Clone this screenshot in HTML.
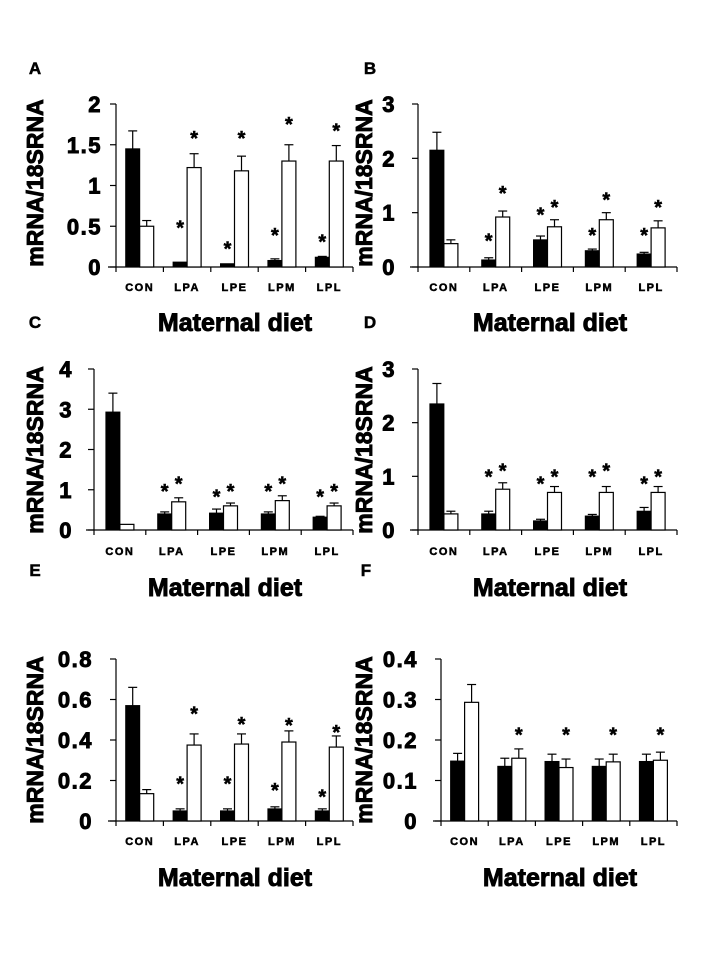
<!DOCTYPE html>
<html><head><meta charset="utf-8"><style>
html,body{margin:0;padding:0;background:#fff;}
svg{display:block;font-family:"Liberation Sans",Arial,sans-serif;}
.heavy{stroke:#000;stroke-width:0.9px;paint-order:stroke;}
.heavy2{stroke:#000;stroke-width:0.5px;}
</style></head><body>
<svg id="fig" width="717" height="955" viewBox="0 0 717 955" xmlns="http://www.w3.org/2000/svg"></svg>
<script>
const categories = ["CON","LPA","LPE","LPM","LPL"];
const yTicksA = ["0","0.5","1","1.5","2"];
const yTicksB = ["0","1","2","3"];
const yTicksC = ["0","1","2","3","4"];
const yTicksD = ["0","1","2","3"];
const yTicksE = ["0","0.2","0.4","0.6","0.8"];
const yTicksF = ["0","0.1","0.2","0.3","0.4"];

const aBlack = [1.45,0.06,0.04,0.08,0.12];
const aBlackErr = [1.67,0.06,0.04,0.10,0.13];
const aWhite = [0.50,1.22,1.18,1.30,1.30];
const aWhiteErr = [0.57,1.39,1.36,1.50,1.49];
const aStarBlack = [null,0.51,0.25,0.42,0.34];
const aStarWhite = [null,1.61,1.61,1.78,1.70];

const bBlack = [2.15,0.13,0.50,0.30,0.24];
const bBlackErr = [2.48,0.17,0.57,0.33,0.27];
const bWhite = [0.43,0.92,0.74,0.87,0.72];
const bWhiteErr = [0.50,1.03,0.87,1.00,0.85];
const bStarBlack = [null,0.52,1.00,0.63,0.63];
const bStarWhite = [null,1.40,1.14,1.28,1.14];

const cBlack = [2.93,0.40,0.42,0.40,0.32];
const cBlackErr = [3.40,0.45,0.52,0.45,0.34];
const cWhite = [0.14,0.70,0.60,0.73,0.60];
const cWhiteErr = [0.14,0.80,0.67,0.85,0.67];
const cStarBlack = [null,1.02,0.88,1.02,0.88];
const cStarWhite = [null,1.20,1.02,1.20,1.02];

const dBlack = [2.35,0.30,0.17,0.26,0.35];
const dBlackErr = [2.73,0.35,0.20,0.29,0.42];
const dWhite = [0.30,0.76,0.70,0.70,0.70];
const dWhiteErr = [0.35,0.88,0.81,0.81,0.81];
const dStarBlack = [null,1.03,0.90,1.03,0.90];
const dStarWhite = [null,1.15,1.03,1.15,1.03];

const eBlack = [0.57,0.05,0.05,0.06,0.05];
const eBlackErr = [0.66,0.06,0.06,0.07,0.06];
const eWhite = [0.135,0.375,0.38,0.39,0.365];
const eWhiteErr = [0.155,0.43,0.43,0.445,0.42];
const eStarBlack = [null,0.196,0.196,0.163,0.13];
const eStarWhite = [null,0.54,0.49,0.485,0.45];

const fBlack = [0.148,0.135,0.147,0.135,0.147];
const fBlackErr = [0.167,0.155,0.165,0.153,0.165];
const fWhite = [0.293,0.155,0.132,0.146,0.15];
const fWhiteErr = [0.337,0.178,0.153,0.165,0.17];
const fStarBlack = [null,null,null,null,null];
const fStarWhite = [null,0.219,0.219,0.219,0.219];

const panels = [
 {id:"a",letter:"A",lx:35,ly:68,x0:116,x1:353,yTop:104,yZero:267,max:2,ticks:yTicksA,tlx:102,catY:291,titleX:235,titleY:331,ytx:35,yty:183,
  black:aBlack,blackErr:aBlackErr,white:aWhite,whiteErr:aWhiteErr,sb:aStarBlack,sw:aStarWhite},
 {id:"b",letter:"B",lx:370,ly:68,x0:418,x1:677,yTop:104,yZero:267,max:3,ticks:yTicksB,tlx:396,catY:291,titleX:550,titleY:331,ytx:364,yty:183,
  black:bBlack,blackErr:bBlackErr,white:bWhite,whiteErr:bWhiteErr,sb:bStarBlack,sw:bStarWhite},
 {id:"c",letter:"C",lx:35,ly:322,x0:94,x1:353,yTop:369,yZero:530,max:4,ticks:yTicksC,tlx:73,catY:555,titleX:225,titleY:596,ytx:35,yty:450,
  black:cBlack,blackErr:cBlackErr,white:cWhite,whiteErr:cWhiteErr,sb:cStarBlack,sw:cStarWhite},
 {id:"d",letter:"D",lx:370,ly:322,x0:418,x1:677,yTop:369,yZero:530,max:3,ticks:yTicksD,tlx:396,catY:555,titleX:550,titleY:596,ytx:364,yty:450,
  black:dBlack,blackErr:dBlackErr,white:dWhite,whiteErr:dWhiteErr,sb:dStarBlack,sw:dStarWhite},
 {id:"e",letter:"E",lx:35,ly:570,x0:116,x1:353,yTop:659,yZero:821,max:0.8,ticks:yTicksE,tlx:93,catY:845,titleX:235,titleY:886,ytx:35,yty:740,
  black:eBlack,blackErr:eBlackErr,white:eWhite,whiteErr:eWhiteErr,sb:eStarBlack,sw:eStarWhite},
 {id:"f",letter:"F",lx:366,ly:570,x0:441,x1:677,yTop:659,yZero:821,max:0.4,ticks:yTicksF,tlx:418,catY:845,titleX:560,titleY:886,ytx:364,yty:740,
  black:fBlack,blackErr:fBlackErr,white:fWhite,whiteErr:fWhiteErr,sb:fStarBlack,sw:fStarWhite}
];

const NS = "http://www.w3.org/2000/svg";
const svg = document.getElementById("fig");
function mk(tag, attrs, parent){
  const e = document.createElementNS(NS, tag);
  for (const k in attrs) e.setAttribute(k, attrs[k]);
  parent.appendChild(e);
  return e;
}

panels.forEach(p => {
  const g = mk("g", {}, svg);
  
  
  const yS = v => p.yZero - (v / p.max) * (p.yZero - p.yTop);
  const gw = (p.x1 - p.x0) / categories.length;
  const xC = i => p.x0 + gw * (i + 0.5);
  const bw = 14;

  const letter = mk("text", {x:p.lx, y:p.ly+6, "font-size":17, "font-weight":"bold", "text-anchor":"middle", class:"heavy2"}, g);
  letter.textContent = p.letter;
  
  

  const yt = mk("text", {x:0, y:0, "font-size":23, "font-weight":"bold", "text-anchor":"middle", class:"heavy",
    transform:`translate(${p.ytx + 8},${p.yty}) rotate(-90)`}, g);
  yt.textContent = "mRNA/18SRNA";
  
  

  const ya = mk("line", {x1:p.x0, y1:p.yTop, x2:p.x0, y2:p.yZero, stroke:"#000", "stroke-width":1.2}, g);
  
  
  const xa = mk("line", {x1:p.x0-8, y1:p.yZero, x2:p.x1, y2:p.yZero, stroke:"#000", "stroke-width":1.2}, g);
  
  

  p.ticks.forEach((t, i) => {
    const v = parseFloat(t);
    const y = yS(v);
    mk("line", {x1:p.x0-6, y1:y, x2:p.x0, y2:y, stroke:"#000", "stroke-width":1.2}, g);
    const tl = mk("text", {x:p.tlx, y:y+8, "font-size":22, "font-weight":"bold", "text-anchor":"end", "letter-spacing":"1.5", class:"heavy"}, g);
    tl.textContent = t;
    
    
  });
  for (let i = 0; i <= categories.length; i++) {
    const x = p.x0 + gw * i;
    mk("line", {x1:x, y1:p.yZero, x2:x, y2:p.yZero+5, stroke:"#000", "stroke-width":1.2}, g);
  }

  categories.forEach((c, i) => {
    const cx = xC(i);
    const by = yS(p.black[i]);
    const bb = mk("rect", {x:cx-bw, y:by, width:bw, height:p.yZero-by, fill:"#000", stroke:"#000", "stroke-width":1}, g);
    
    
    const bex = cx - bw/2, bey = yS(p.blackErr[i]);
    if (p.blackErr[i] > p.black[i]) {
      mk("line", {x1:bex, y1:by, x2:bex, y2:bey, stroke:"#000", "stroke-width":1.2}, g);
      mk("line", {x1:bex-4.5, y1:bey, x2:bex+4.5, y2:bey, stroke:"#000", "stroke-width":1.2}, g);
    }
    const wy = yS(p.white[i]);
    const wb = mk("rect", {x:cx, y:wy, width:bw, height:p.yZero-wy, fill:"#fff", stroke:"#000", "stroke-width":1.2}, g);
    
    
    const wex = cx + bw/2, wey = yS(p.whiteErr[i]);
    if (p.whiteErr[i] > p.white[i]) {
      mk("line", {x1:wex, y1:wy, x2:wex, y2:wey, stroke:"#000", "stroke-width":1.2}, g);
      mk("line", {x1:wex-4.5, y1:wey, x2:wex+4.5, y2:wey, stroke:"#000", "stroke-width":1.2}, g);
    }
    if (p.sb[i] !== null) {
      const s = mk("text", {x:bex, y:yS(p.sb[i])+9, "font-size":20, "font-weight":"bold", "text-anchor":"middle", class:"heavy2"}, g);
      s.textContent = "*";
      
      
    }
    if (p.sw[i] !== null) {
      const s = mk("text", {x:wex, y:yS(p.sw[i])+9, "font-size":20, "font-weight":"bold", "text-anchor":"middle", class:"heavy2"}, g);
      s.textContent = "*";
      
      
    }
    const cl = mk("text", {x:cx, y:p.catY, "font-size":11, "font-weight":"bold", "text-anchor":"middle", "letter-spacing":"1.5", class:"heavy2"}, g);
    cl.textContent = c;
    
    
  });

  const xt = mk("text", {x:p.titleX, y:p.titleY, "font-size":25, "font-weight":"bold", "text-anchor":"middle", class:"heavy"}, g);
  xt.textContent = "Maternal diet";
  
  
});
</script>
</body></html>
